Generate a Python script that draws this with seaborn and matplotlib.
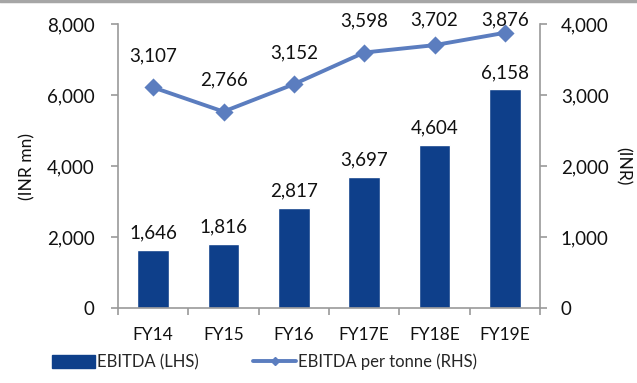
import numpy as np
import pandas as pd
import matplotlib
matplotlib.use("Agg")
import matplotlib.pyplot as plt
from matplotlib.lines import Line2D
from matplotlib.patches import Patch
import seaborn as sns

years = ["FY14", "FY15", "FY16", "FY17E", "FY18E", "FY19E"]
ebitda = [1646, 1816, 2817, 3697, 4604, 6158]
ebitda_per_tonne = [3107, 2766, 3152, 3598, 3702, 3876]
left_ticks = [0, 2000, 4000, 6000, 8000]
right_ticks = [0, 1000, 2000, 3000, 4000]

bar_color = "#0e3f8a"
line_color = "#5b7dbf"
spine_color = "#9a9a9a"
text_color = "#111111"

sns.set_theme(style="white")
plt.rcParams["font.family"] = ["Lato", "DejaVu Sans"]
fs = 12.5      # category text
fs_leg = 12    # legend text
fs_num = 13.5  # numbers

df = pd.DataFrame({"year": years, "ebitda": ebitda, "per_tonne": ebitda_per_tonne})

fig = plt.figure(figsize=(6.37, 3.83), dpi=100)
ax = fig.add_axes([118 / 637, 1 - 308 / 383, 422 / 637, 284 / 383])

sns.barplot(data=df, x="year", y="ebitda", color=bar_color, width=0.45,
            saturation=1, ax=ax, zorder=2)
ax.set_ylim(0, 8000)
ax.set_xlim(-0.5, len(years) - 0.5)

ax2 = ax.twinx()
sns.pointplot(data=df, x="year", y="per_tonne", color=line_color, markers="D",
              markersize=7, linewidth=2.8, ax=ax2)
ax2.set_ylim(0, 4000)
ax2.set_xlim(-0.5, len(years) - 0.5)

# value labels on the bars
for i, v in enumerate(ebitda):
    ax.annotate(f"{v:,}", (i, v), xytext=(0, 6), textcoords="offset points",
                ha="center", va="bottom", fontsize=fs_num, color=text_color)

# value labels on the line, kept inside the top margin
label_gap = 440
label_cap = 4060
for i, v in enumerate(ebitda_per_tonne):
    ax2.text(i, min(v + label_gap, label_cap), f"{v:,}", ha="center",
             va="center", fontsize=fs_num, color=text_color, clip_on=False)

# axes styling
for a in (ax, ax2):
    for s in a.spines.values():
        s.set_color(spine_color)
        s.set_linewidth(1.2)
    a.spines["top"].set_visible(False)
    a.grid(False)

ax.spines["right"].set_visible(False)
ax2.spines["left"].set_visible(False)
ax2.spines["bottom"].set_visible(False)

ax.set_yticks(left_ticks)
ax.set_yticklabels([f"{t:,}" for t in left_ticks], fontsize=fs_num, color=text_color)
ax2.set_yticks(right_ticks)
ax2.set_yticklabels([f"{t:,}" for t in right_ticks], fontsize=fs_num, color=text_color)

ax.tick_params(axis="y", which="major", left=True, direction="out", length=5,
               width=1.2, color=spine_color, pad=12)
ax2.tick_params(axis="y", which="major", right=True, direction="out", length=5,
                width=1.2, color=spine_color, pad=10)

ax.set_xticks(range(len(years)))
ax.set_xticklabels(years, fontsize=fs, color=text_color)
ax.set_xticks(np.arange(-0.5, len(years)), minor=True)
ax.tick_params(axis="x", which="major", bottom=False, length=0, pad=14)
ax.tick_params(axis="x", which="minor", bottom=True, direction="out", length=5,
               width=1.2, color=spine_color)
ax.set_xlabel("")
ax2.set_xlabel("")

ax.set_ylabel("(INR mn)", fontsize=fs, color=text_color, labelpad=8)
ax2.set_ylabel("(INR)", fontsize=fs, color=text_color, rotation=270, labelpad=16)

# legend entries, one box each so they sit where wanted below the chart
legend_y = 1 - 362 / 383
leg_kw = dict(loc="center left", frameon=False, fontsize=fs_leg,
              handlelength=43 / (fs_leg * 100 / 72), handleheight=0.8,
              handletextpad=0.15, borderpad=0, borderaxespad=0)
fig.legend([Patch(facecolor=bar_color, edgecolor=bar_color)], ["EBITDA (LHS)"],
           bbox_to_anchor=(52 / 637, legend_y), **leg_kw)
fig.legend([Line2D([0], [0], color=line_color, lw=2.8, marker="D", markersize=4)],
           ["EBITDA per tonne (RHS)"],
           bbox_to_anchor=(253 / 637, legend_y), **leg_kw)

# thin gray rule along the top edge
fig.add_artist(Line2D([0, 1], [0.997, 0.997], transform=fig.transFigure,
                      color="#a6a6a6", lw=2.5))

fig.savefig("out.png", dpi=100)
